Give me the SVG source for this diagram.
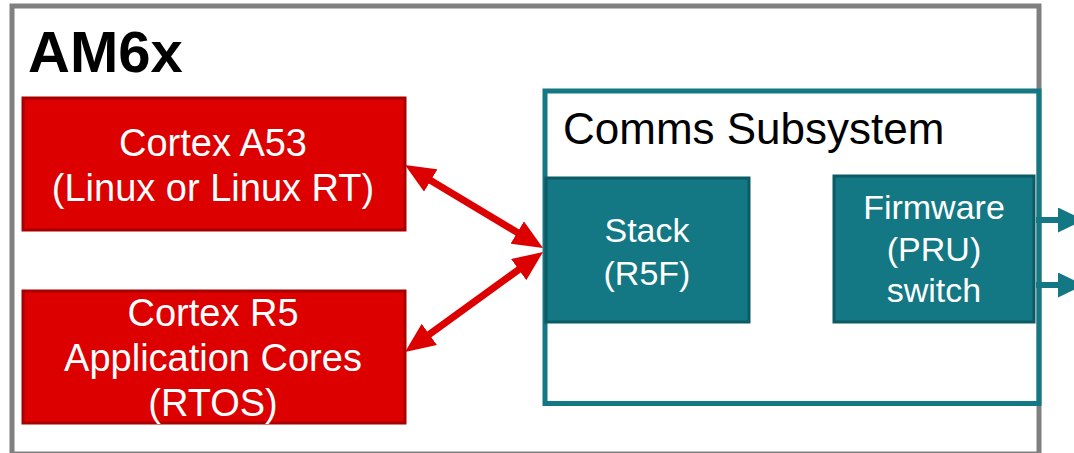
<svg xmlns="http://www.w3.org/2000/svg" width="1074" height="453" viewBox="0 0 1074 453">
<style>
.red{fill:#DC0000;stroke:#A80000;stroke-width:3}
.teal{fill:#137784;stroke:#0C5A64;stroke-width:3}
.wt{fill:#FFFFFF;font-family:"Liberation Sans",Arial,sans-serif;font-size:38px;text-anchor:middle}
.wt2{fill:#FFFFFF;font-family:"Liberation Sans",Arial,sans-serif;font-size:34px;text-anchor:middle}
.rline{stroke:#DC0000;stroke-width:7;fill:none}
.tline{stroke:#137784;stroke-width:6;fill:none}
</style>
<defs>
<marker id="rh" markerUnits="userSpaceOnUse" viewBox="0 0 30 26" refX="20" refY="13" markerWidth="30" markerHeight="26" orient="auto-start-reverse">
<path d="M0,0 L30,13 L0,26 z" fill="#DC0000"/>
</marker>
<marker id="th" markerUnits="userSpaceOnUse" viewBox="0 0 26 25" refX="2" refY="12.5" markerWidth="26" markerHeight="25" orient="auto">
<path d="M0,0 L26,12.5 L0,25 z" fill="#137784"/>
</marker>
</defs>
<rect width="1074" height="453" fill="#FFFFFF"/>
<g id="am6x">
<rect x="12" y="6" width="1027" height="448" fill="none" stroke="#808080" stroke-width="5"/>
<text x="28" y="72" font-family="'Liberation Sans',Arial,sans-serif" font-size="58" font-weight="bold" fill="#000000">AM6x</text>
</g>
<g id="comms">
<rect x="545" y="91" width="494" height="312.5" fill="none" stroke="#137784" stroke-width="5"/>
<text x="563" y="144" font-family="'Liberation Sans',Arial,sans-serif" font-size="44" fill="#000000">Comms Subsystem</text>
</g>
<g id="a53">
<rect class="red" x="23" y="98" width="382" height="132"/>
<text class="wt" x="213" y="156">Cortex A53</text>
<text class="wt" x="213" y="201">(Linux or Linux RT)</text>
</g>
<g id="r5">
<rect class="red" x="23" y="291" width="382" height="132"/>
<text class="wt" x="213" y="326">Cortex R5</text>
<text class="wt" x="213" y="371">Application Cores</text>
<text class="wt" x="213" y="416">(RTOS)</text>
</g>
<g id="stack">
<rect class="teal" x="546" y="178" width="203" height="144"/>
<text class="wt2" x="647" y="242">Stack</text>
<text class="wt2" x="647" y="285">(R5F)</text>
</g>
<g id="firmware">
<rect class="teal" x="834" y="176" width="200" height="146"/>
<text class="wt2" x="934" y="219">Firmware</text>
<text class="wt2" x="934" y="261">(PRU)</text>
<text class="wt2" x="934" y="302">switch</text>
</g>
<g id="connectors">
<line class="rline" x1="413.6" y1="170.2" x2="534.4" y2="242.8" marker-start="url(#rh)" marker-end="url(#rh)"/>
<line class="rline" x1="534.9" y1="257.9" x2="413.1" y2="346.1" marker-start="url(#rh)" marker-end="url(#rh)"/>
<line class="tline" x1="1036" y1="220" x2="1060" y2="220" marker-end="url(#th)"/>
<line class="tline" x1="1036" y1="285" x2="1060" y2="285" marker-end="url(#th)"/>
</g>
</svg>
